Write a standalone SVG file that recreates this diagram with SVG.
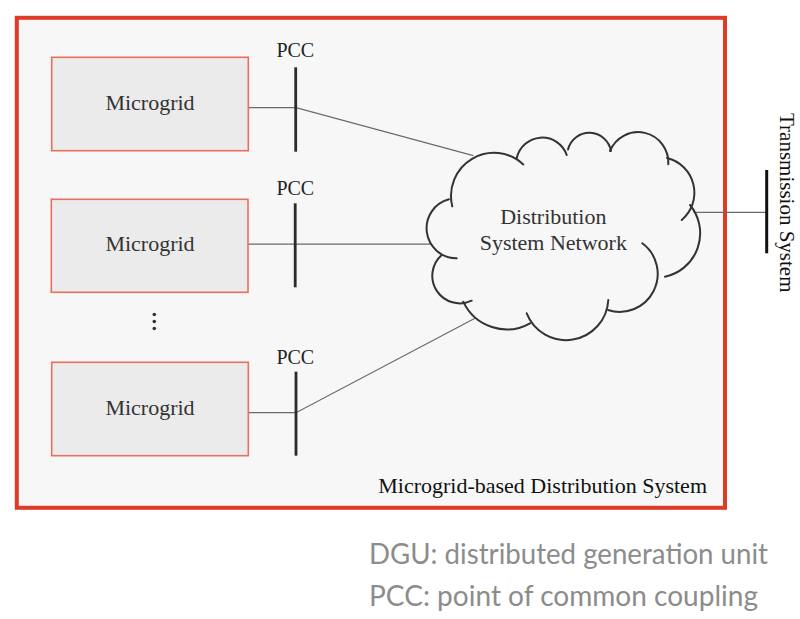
<svg xmlns="http://www.w3.org/2000/svg" width="800" height="619" viewBox="0 0 800 619">
  <style>
    .serif { font-family: "Liberation Serif", "Times New Roman", serif; }
    .label { font-size: 22px; fill: #333333; text-anchor: middle; }
    .pcc-label { font-size: 20px; fill: #222222; text-anchor: middle; }
    .mg-box { fill: #ebebeb; stroke: #e8705c; stroke-width: 1.6; }
    .bus { stroke: #2b2b2b; stroke-width: 2.8; fill: none; }
    .wire { stroke: #6a6a6a; stroke-width: 1.2; fill: none; }
    .lobe { stroke: #333333; stroke-width: 2; fill: none; stroke-linecap: round; }
    .note { font-family: Lato, "Open Sans", sans-serif; font-size: 28px; font-weight: 400; fill: #8c8c8c; }
  </style>

  <rect x="0" y="0" width="800" height="619" fill="#ffffff"/>

  <!-- system boundary -->
  <g id="distribution-system">
    <rect x="16.8" y="17.8" width="708.2" height="490" fill="#f7f7f7" stroke="#dd3b26" stroke-width="4"/>
    <text class="serif" x="707" y="493" font-size="22" fill="#111111" text-anchor="end">Microgrid-based Distribution System</text>
  </g>

  <!-- connectors -->
  <g id="connectors">
    <path class="wire" d="M248.3,107.7 H296 L473.3,155.7"/>
    <path class="wire" d="M248.3,244.2 H431"/>
    <path class="wire" d="M248.3,412.7 H296 L475,318.3"/>
    <path class="wire" d="M693.5,212.3 H766.7"/>
  </g>

  <!-- microgrids -->
  <g id="microgrid-1">
    <rect class="mg-box" x="51.7" y="57.3" width="196.6" height="93.4"/>
    <text class="serif label" x="150" y="110">Microgrid</text>
  </g>
  <g id="microgrid-2">
    <rect class="mg-box" x="51.3" y="199.3" width="196.7" height="93"/>
    <text class="serif label" x="150" y="250.5">Microgrid</text>
  </g>
  <g id="ellipsis">
    <circle cx="154.3" cy="314.5" r="1.8" fill="#333333"/>
    <circle cx="154.3" cy="321.5" r="1.8" fill="#333333"/>
    <circle cx="154.3" cy="328.5" r="1.8" fill="#333333"/>
  </g>
  <g id="microgrid-3">
    <rect class="mg-box" x="51.7" y="362.3" width="196.6" height="93.4"/>
    <text class="serif label" x="150" y="415">Microgrid</text>
  </g>

  <!-- points of common coupling -->
  <g id="pcc-1">
    <text class="serif pcc-label" x="295.3" y="57">PCC</text>
    <line class="bus" x1="295.7" y1="67.3" x2="295.7" y2="151.7"/>
  </g>
  <g id="pcc-2">
    <text class="serif pcc-label" x="295.3" y="195">PCC</text>
    <line class="bus" x1="295.2" y1="203.3" x2="295.2" y2="287.3"/>
  </g>
  <g id="pcc-3">
    <text class="serif pcc-label" x="295.3" y="364">PCC</text>
    <line class="bus" x1="296" y1="371.7" x2="296" y2="455.7"/>
  </g>

  <!-- network cloud, one arc per lobe -->
  <g id="distribution-network">
    <path class="lobe" d="M452.3,206.4 A43,43 0 0 1 523.3,164.4"/>
    <path class="lobe" d="M516.7,158.3 A26,26 0 0 1 566.7,155"/>
    <path class="lobe" d="M568,149.5 A22,22 0 0 1 611,151"/>
    <path class="lobe" d="M610,151 A30.3,30.3 0 0 1 668.3,164.3"/>
    <path class="lobe" d="M667,158 A35.7,35.7 0 0 1 681.7,220"/>
    <path class="lobe" d="M690,205 A44.4,44.4 0 0 1 665,276.7"/>
    <path class="lobe" d="M642.3,243.3 A38,38 0 0 1 608,310"/>
    <path class="lobe" d="M608.3,300 A42.3,42.3 0 0 1 526.7,313.3"/>
    <path class="lobe" d="M530,323.3 A47.8,47.8 0 0 1 463.3,301.7"/>
    <path class="lobe" d="M471.7,300.7 A27.6,27.6 0 0 1 441.7,255"/>
    <path class="lobe" d="M456.7,258.3 A30,30 0 0 1 448.9,199.3"/>
    <text class="serif label" x="553.3" y="224">Distribution</text>
    <text class="serif label" x="553.3" y="250">System Network</text>
  </g>

  <!-- transmission system bus -->
  <g id="transmission-system">
    <line x1="766.7" y1="170" x2="766.7" y2="253.3" stroke="#111111" stroke-width="3"/>
    <text class="serif" transform="translate(779.5,113) rotate(90)" font-size="21" fill="#111111">Transmission System</text>
  </g>

  <!-- abbreviations -->
  <g id="legend">
    <text class="note" x="369" y="564" textLength="399" lengthAdjust="spacingAndGlyphs">DGU: distributed generation unit</text>
    <text class="note" x="369" y="606" textLength="389" lengthAdjust="spacingAndGlyphs">PCC: point of common coupling</text>
  </g>
</svg>
